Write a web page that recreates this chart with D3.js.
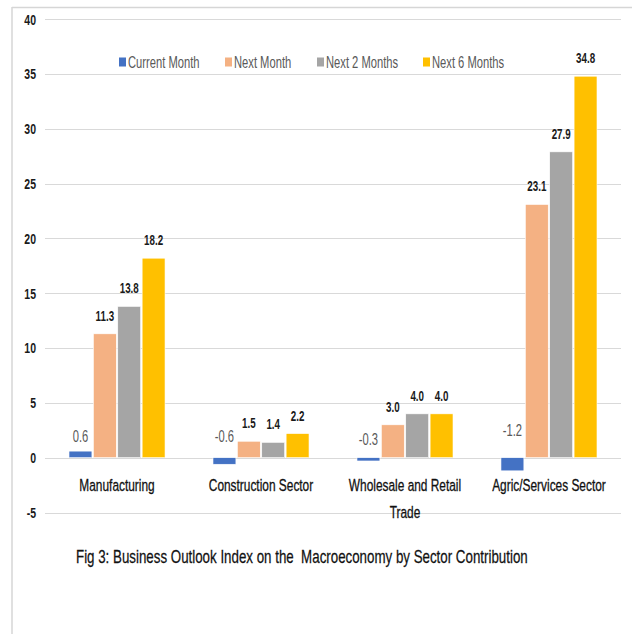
<!DOCTYPE html>
<html>
<head>
<meta charset="utf-8">
<script src="https://cdn.jsdelivr.net/npm/d3@7"></script>
<style>
  html, body { margin: 0; padding: 0; background: #fff; }
  svg { display: block; }
  text { font-family: "Liberation Sans", Arial, sans-serif; }
</style>
</head>
<body>
<svg id="chart" width="632" height="634"></svg>
<script>
const categories = ["Manufacturing", "Construction Sector", "Wholesale and Retail Trade", "Agric/Services Sector"];
const categoryLines = [["Manufacturing"], ["Construction Sector"], ["Wholesale and Retail", "Trade"], ["Agric/Services Sector"]];
const seriesNames = ["Current Month", "Next Month", "Next 2 Months", "Next 6 Months"];
const currentMonth = [0.6, -0.6, -0.3, -1.2];
const nextMonth = [11.3, 1.5, 3.0, 23.1];
const next2Months = [13.8, 1.4, 4.0, 27.9];
const next6Months = [18.2, 2.2, 4.0, 34.8];
const yTicks = [-5, 0, 5, 10, 15, 20, 25, 30, 35, 40];
const colors = ["#4472C4", "#F4B183", "#A5A5A5", "#FFC000"];
const caption = "Fig 3: Business Outlook Index on the\u00A0 Macroeconomy by Sector Contribution";

const SX = 0.7; // condensed look of the original typeface
const seriesValues = [currentMonth, nextMonth, next2Months, next6Months];
const svg = d3.select("#chart");

// frame
svg.append("line").attr("x1", 12).attr("x2", 632).attr("y1", 7.5).attr("y2", 7.5)
  .attr("stroke", "#d6d6d6").attr("stroke-width", 1.5);
svg.append("line").attr("x1", 12).attr("x2", 12).attr("y1", 7).attr("y2", 634)
  .attr("stroke", "#d6d6d6").attr("stroke-width", 1.5);

const y = d3.scaleLinear().domain([-5, 40]).range([512.5, 19.2]);
const x0 = d3.scaleBand().domain(categories).range([45, 621]).paddingInner(0.333).paddingOuter(0.1667);
const x1 = d3.scaleBand().domain(seriesNames).range([0, x0.bandwidth()]).paddingInner(0.06);

// gridlines
svg.append("g").selectAll("line").data(yTicks).join("line")
  .attr("x1", 45).attr("x2", 621)
  .attr("y1", d => Math.round(y(d)) + 0.5).attr("y2", d => Math.round(y(d)) + 0.5)
  .attr("stroke", "#d9d9d9").attr("stroke-width", 1);

// y axis labels
const yAxis = d3.axisLeft(y).tickValues(yTicks).tickSize(0).tickPadding(0).tickFormat(d => String(d));
const gy = svg.append("g").attr("transform", "translate(36,0)").call(yAxis);
gy.select(".domain").remove();
gy.selectAll("text")
  .attr("font-family", "Liberation Sans, Arial, sans-serif")
  .attr("font-size", 15).attr("font-weight", "bold").attr("fill", "#1a1a1a")
  .attr("x", 0).attr("transform", `scale(${SX},1)`);

// bars
const groups = svg.append("g").selectAll("g").data(categories).join("g")
  .attr("transform", d => `translate(${x0(d)},0)`);

groups.each(function(cat, ci) {
  const g = d3.select(this);
  const rows = seriesNames.map((s, si) => ({ s, si, v: seriesValues[si][ci] }));
  g.selectAll("rect").data(rows).join("rect")
    .attr("x", d => x1(d.s))
    .attr("width", x1.bandwidth())
    .attr("y", d => y(Math.max(0, d.v)))
    .attr("height", d => Math.abs(y(d.v) - y(0)))
    .attr("fill", d => colors[d.si])
    .attr("stroke", "#fff").attr("stroke-width", 0.6);
  g.selectAll("text").data(rows).join("text")
    .attr("transform", d => {
      const tx = x1(d.s) + x1.bandwidth() / 2;
      const ty = d.si === 0 ? y(Math.abs(d.v)) - 9 : y(d.v) - 13;
      return `translate(${tx},${ty}) scale(${SX},1)`;
    })
    .attr("text-anchor", "middle")
    .attr("font-size", d => d.si === 0 ? 16 : 14)
    .attr("font-weight", d => d.si === 0 ? "normal" : "bold")
    .attr("fill", d => d.si === 0 ? "#595959" : "#1a1a1a")
    .text(d => d3.format(".1f")(d.v).replace("\u2212", "-"));
});

// category labels
const catG = svg.append("g").selectAll("text").data(categories).join("text")
  .attr("transform", d => `translate(${x0(d) + x0.bandwidth() / 2},491) scale(${SX},1)`)
  .attr("text-anchor", "middle")
  .attr("font-size", 17)
  .attr("fill", "#111")
  .attr("stroke", "#111").attr("stroke-width", 0.3);
catG.each(function(d, i) {
  d3.select(this).selectAll("tspan").data(categoryLines[i]).join("tspan")
    .attr("x", 0)
    .attr("dy", (t, j) => j === 0 ? 0 : 27)
    .text(t => t);
});

// legend
const legendX = [119, 225, 317, 423];
const lg = svg.append("g").selectAll("g").data(seriesNames).join("g")
  .attr("transform", (d, i) => `translate(${legendX[i]},57.5)`);
lg.append("rect").attr("width", 7).attr("height", 9).attr("fill", (d, i) => colors[i]);
lg.append("text").attr("transform", `translate(9,10) scale(${SX},1)`)
  .attr("font-size", 16).attr("fill", "#595959").text(d => d);

// caption
const cap = svg.append("text")
  .attr("font-size", 18).attr("fill", "#111")
  .attr("stroke", "#111").attr("stroke-width", 0.25)
  .text(caption);
const capW = cap.node().getComputedTextLength();
cap.attr("transform", `translate(76,563) scale(${452 / capW},1)`);
</script>
</body>
</html>
